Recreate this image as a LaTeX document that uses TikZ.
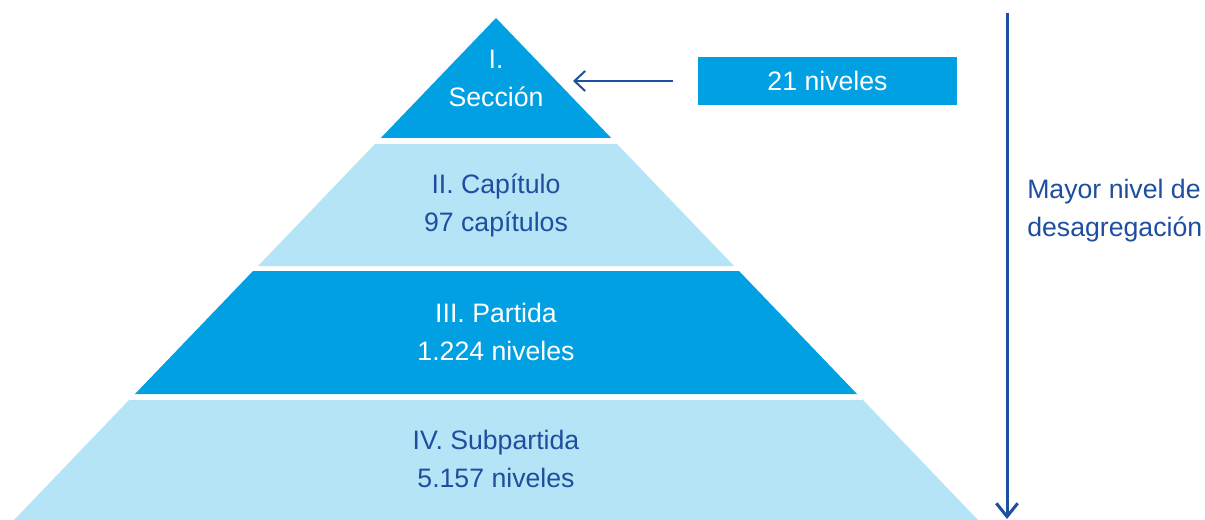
\documentclass[tikz,border=0pt]{standalone}
\usepackage{fontspec}
\setmainfont{Liberation Sans}
\usetikzlibrary{arrows.meta}

\definecolor{fuerte}{RGB}{0,160,227}
\definecolor{claro}{RGB}{181,228,247}
\definecolor{azul}{RGB}{30,78,158}

\tikzset{
  capa/.style={align=center, font=\fontsize{20}{28.5}\selectfont, text=azul},
  flecha/.style={draw=azul, line width=1.5pt, -{Straight Barb[length=8pt,width=15pt]}},
}

\begin{document}
\begin{tikzpicture}[x=0.75pt, y=-0.75pt]
    \useasboundingbox (0,0) rectangle (1205,520);
    % bandas de la piramide
    \fill[fuerte] (496,18) -- (611.2,138) -- (380.8,138) -- cycle;
    \fill[claro] (375,144) -- (617,144) -- (734,266) -- (258,266) -- cycle;
    \fill[fuerte] (253,271) -- (739,271) -- (857,394) -- (135,394) -- cycle;
    \fill[claro] (129,400) -- (863,400) -- (978,520) -- (14,520) -- cycle;
    % textos
    \node[capa, text=white] (seccion) at (496,78) {I.\\Secci\'on};
    \node[capa] (capitulo) at (496,205) {II. Cap\'itulo\\97 cap\'itulos};
    \node[capa, text=white] (partida) at (496,332) {III. Partida\\1.224 niveles};
    \node[capa] (subpartida) at (496,459) {IV. Subpartida\\5.157 niveles};
    \node[fill=fuerte, text=white, font=\fontsize{20}{24}\selectfont,
          minimum width=194pt, minimum height=36pt, inner sep=0pt] (niveles) at (827.5,81) {21 niveles};
    \coordinate (borde) at (573,81);
    \draw[flecha] ([xshift=-18.75pt]niveles.west) -- (borde);
    % flecha vertical
    \coordinate (arriba) at (1007,13);
    \coordinate (abajo) at (1007,519);
    \draw[flecha, line width=2.25pt, -{Straight Barb[length=10pt,width=16pt]}] (arriba) -- (abajo);
    \node[capa, align=left, anchor=west, inner sep=0pt] (mayor) at (1027,211) {Mayor nivel de\\desagregaci\'on};
  \end{tikzpicture}
\end{document}
